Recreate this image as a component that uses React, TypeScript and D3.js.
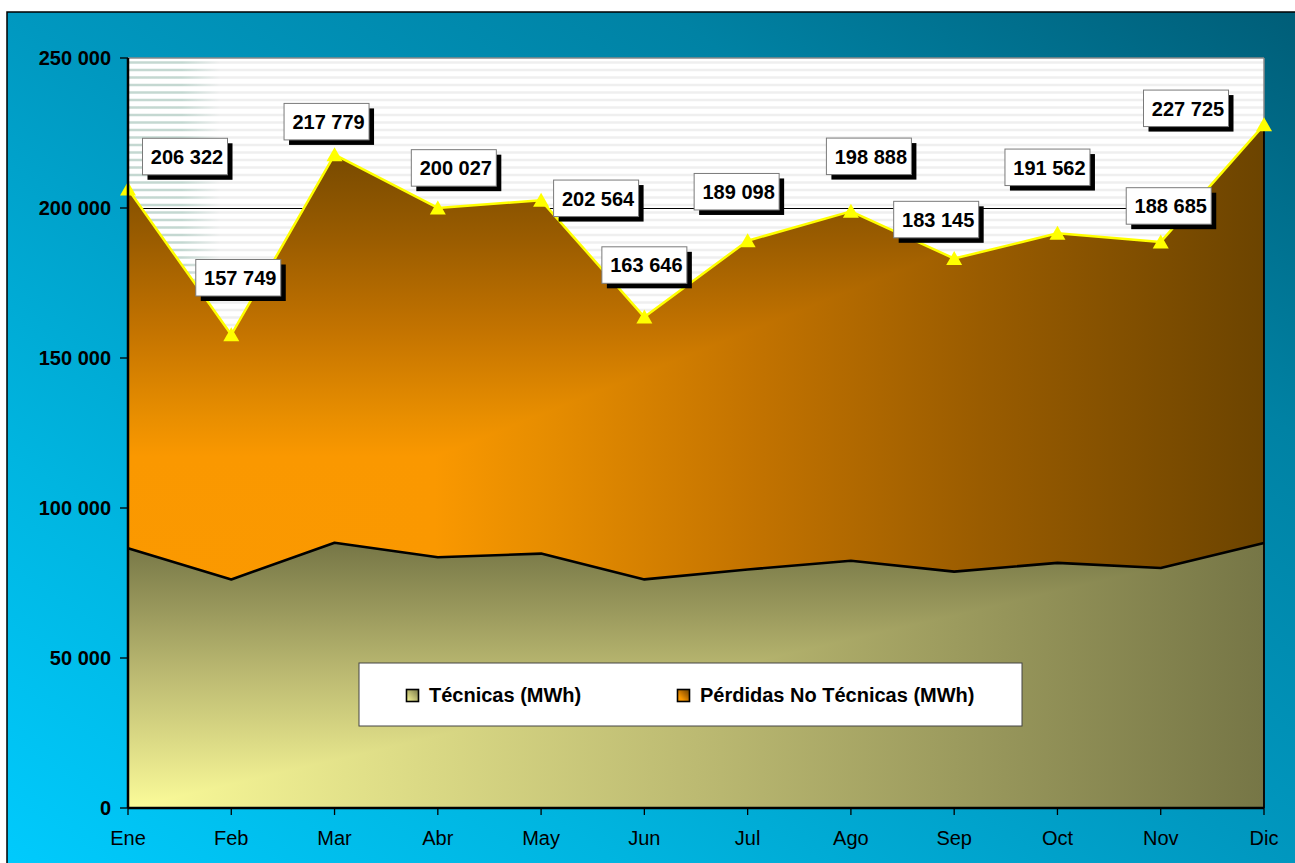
import React from 'react';
import * as d3 from 'd3';

const months = ['Ene', 'Feb', 'Mar', 'Abr', 'May', 'Jun', 'Jul', 'Ago', 'Sep', 'Oct', 'Nov', 'Dic'];
const totalLosses = [206322, 157749, 217779, 200027, 202564, 163646, 189098, 198888, 183145, 191562, 188685, 227725];
const technical = [86600, 76200, 88400, 83600, 84800, 76200, 79500, 82400, 78800, 81700, 80000, 88300];
const yTicks = [0, 50000, 100000, 150000, 200000, 250000];
const seriesNames = ['Técnicas (MWh)', 'Pérdidas No Técnicas (MWh)'];

// label box offsets (px) from each point (manually placed in the original)
const labelDx = [57, 7, -8, 16, 55, 0, -11, 18, -18, -10, 8, -78];
const labelDy = [-32.5, -57, -33, -40, -2, -52, -49, -55, -39, -66, -36, -16.5];

const W = 1295;
const H = 863;
const P = { left: 128, right: 1264, top: 58, bottom: 808 };
const FONT = "'Liberation Sans', Arial, Helvetica, sans-serif";

const perdStops: [number, string][] = [
  [0, '#fb9900'], [0.27, '#fa9800'], [0.36, '#e88e00'], [0.55, '#c37300'], [0.75, '#9a5c00'], [1, '#6c4400'],
];
const tecStops: [number, string][] = [
  [0, '#fbfb99'], [0.5, '#bcba72'], [1, '#767646'],
];

function Stops({ stops }: { stops: [number, string][] }) {
  return (
    <>
      {stops.map(([o, c], i) => (
        <stop key={i} offset={o} stopColor={c} />
      ))}
    </>
  );
}

export default function App() {
  const idx = d3.range(months.length);
  const x = d3.scaleLinear().domain([0, months.length - 1]).range([P.left, P.right]);
  const y = d3.scaleLinear().domain([0, 250000]).range([P.bottom, P.top]);
  const fmt = d3
    .formatLocale({ decimal: ',', thousands: ' ', grouping: [3], currency: ['', ''] })
    .format(',d');

  const tecArea = d3.area<number>().x((i) => x(i)).y0(y(0)).y1((i) => y(technical[i]))(idx) || '';
  const perdArea =
    d3.area<number>().x((i) => x(i)).y0((i) => y(technical[i])).y1((i) => y(totalLosses[i]))(idx) || '';
  const tecLine = d3.line<number>().x((i) => x(i)).y((i) => y(technical[i]))(idx) || '';
  const totLine = d3.line<number>().x((i) => x(i)).y((i) => y(totalLosses[i]))(idx) || '';

  // bounding boxes for "from corner" gradients
  const pTop = y(d3.max(totalLosses) as number);
  const pBot = y(d3.min(technical) as number);
  const tTop = y(d3.max(technical) as number);
  const tBot = y(0);

  const stripes = d3.range(P.top + 4.5, P.bottom, 7.5);
  const lastI = months.length - 1;

  const boxW = 85;
  const boxH = 36.5;

  return (
    <svg
      width={W}
      height={H}
      style={{ position: 'absolute', left: 0, top: 0, display: 'block' }}
      fontFamily={FONT}
    >
      <defs>
        <linearGradient id="bg" x1="0" y1="1" x2="1" y2="0">
          <stop offset="0" stopColor="#00ccff" />
          <stop offset="0.25" stopColor="#00b5e0" />
          <stop offset="0.5" stopColor="#0098c0" />
          <stop offset="0.75" stopColor="#0082a4" />
          <stop offset="1" stopColor="#005c76" />
        </linearGradient>
        <linearGradient id="stripeG" gradientUnits="userSpaceOnUse" x1={P.left} x2={P.right} y1="0" y2="0">
          <stop offset="0" stopColor="#c4d8d1" />
          <stop offset={(182 - P.left) / (P.right - P.left)} stopColor="#c4d8d1" />
          <stop offset={(220 - P.left) / (P.right - P.left)} stopColor="#efefef" />
          <stop offset="1" stopColor="#efefef" />
        </linearGradient>
        <linearGradient id="perdH" gradientUnits="userSpaceOnUse" x1={P.left} x2={P.right} y1="0" y2="0">
          <Stops stops={perdStops} />
        </linearGradient>
        <linearGradient id="perdV" gradientUnits="userSpaceOnUse" x1="0" x2="0" y1={pBot} y2={pTop}>
          <Stops stops={perdStops} />
        </linearGradient>
        <linearGradient id="tecH" gradientUnits="userSpaceOnUse" x1={P.left} x2={P.right} y1="0" y2="0">
          <Stops stops={tecStops} />
        </linearGradient>
        <linearGradient id="tecV" gradientUnits="userSpaceOnUse" x1="0" x2="0" y1={tBot} y2={tTop}>
          <Stops stops={tecStops} />
        </linearGradient>
        <linearGradient id="swTec" x1="0" y1="1" x2="1" y2="0">
          <Stops stops={tecStops} />
        </linearGradient>
        <linearGradient id="swPerd" x1="0" y1="1" x2="1" y2="0">
          <Stops stops={perdStops} />
        </linearGradient>
        <clipPath id="perdClip">
          <polygon points={`${P.left},${pBot} ${P.left},${pTop} ${P.right},${pTop}`} />
        </clipPath>
        <clipPath id="tecClip">
          <polygon points={`${P.left},${tBot} ${P.left},${tTop} ${P.right},${tTop}`} />
        </clipPath>
      </defs>

      {/* page white + chart background */}
      <rect x={0} y={0} width={W} height={H} fill="#ffffff" />
      <rect x={7} y={12} width={W + 20} height={H + 20} fill="url(#bg)" stroke="#000" strokeWidth={1.5} />

      {/* plot area */}
      <rect x={P.left} y={P.top} width={P.right - P.left} height={P.bottom - P.top} fill="#ffffff" />
      {stripes.map((s, i) => (
        <line key={i} x1={P.left} x2={P.right} y1={s} y2={s} stroke="url(#stripeG)" strokeWidth={2.3} />
      ))}
      {yTicks
        .filter((t) => t > 0 && t < 250000)
        .map((t) => (
          <line
            key={t}
            x1={P.left}
            x2={P.right}
            y1={y(t) + 0.5}
            y2={y(t) + 0.5}
            stroke="#000"
            strokeWidth={1}
            shapeRendering="crispEdges"
          />
        ))}
      <line x1={P.left} x2={P.right} y1={P.top} y2={P.top} stroke="#8a8a8a" strokeWidth={1.5} />
      <line x1={P.right} x2={P.right} y1={P.top} y2={P.bottom} stroke="#8a8a8a" strokeWidth={1.5} />

      {/* areas */}
      <path d={perdArea} fill="url(#perdH)" />
      <path d={perdArea} fill="url(#perdV)" clipPath="url(#perdClip)" />
      <path d={tecArea} fill="url(#tecH)" />
      <path d={tecArea} fill="url(#tecV)" clipPath="url(#tecClip)" />
      <path d={tecLine} fill="none" stroke="#000" strokeWidth={2.6} strokeLinejoin="round" />
      <line
        x1={x(lastI)}
        x2={x(lastI)}
        y1={y(totalLosses[lastI])}
        y2={P.bottom}
        stroke="#000"
        strokeWidth={1.8}
      />

      {/* total line + markers */}
      <path d={totLine} fill="none" stroke="#ffff00" strokeWidth={2.5} strokeLinejoin="round" />
      {idx.map((i) => {
        const cx = x(i);
        const cy = y(totalLosses[i]);
        return (
          <polygon
            key={i}
            points={`${cx},${cy - 7.5} ${cx - 8},${cy + 6.5} ${cx + 8},${cy + 6.5}`}
            fill="#ffff00"
          />
        );
      })}

      {/* axes */}
      <line x1={P.left} x2={P.left} y1={P.top} y2={P.bottom} stroke="#000" strokeWidth={2.5} />
      <line x1={P.left} x2={P.right} y1={P.bottom} y2={P.bottom} stroke="#000" strokeWidth={2.5} />
      {yTicks.map((t) => (
        <g key={t}>
          <line x1={P.left - 8} x2={P.left} y1={y(t)} y2={y(t)} stroke="#000" strokeWidth={1.3} />
          <text x={111} y={y(t) + 7} textAnchor="end" fontSize={20} fontWeight="bold" fill="#000">
            {fmt(t)}
          </text>
        </g>
      ))}
      {idx.map((i) => (
        <g key={i}>
          <line x1={x(i)} x2={x(i)} y1={P.bottom} y2={P.bottom + 7} stroke="#000" strokeWidth={1.3} />
          <text x={x(i)} y={845} textAnchor="middle" fontSize={20} fill="#000">
            {months[i]}
          </text>
        </g>
      ))}

      {/* data labels */}
      {idx.map((i) => {
        const cx = x(i) + labelDx[i];
        const cy = y(totalLosses[i]) + labelDy[i];
        const bx = cx - boxW / 2;
        const by = cy - boxH / 2;
        return (
          <g key={i}>
            <rect x={bx + 5} y={by + 5} width={boxW} height={boxH} fill="#000" />
            <rect x={bx} y={by} width={boxW} height={boxH} fill="#fff" stroke="#7a7a7a" strokeWidth={1} />
            <text x={cx + 2} y={cy + 7.3} textAnchor="middle" fontSize={20} fontWeight="bold" fill="#000">
              {fmt(totalLosses[i])}
            </text>
          </g>
        );
      })}

      {/* legend */}
      <rect x={359} y={663} width={663} height={63} fill="#fff" stroke="#444" strokeWidth={1} />
      <rect x={406.5} y={689.5} width={12} height={12} fill="url(#swTec)" stroke="#000" strokeWidth={1.6} />
      <text x={429} y={702} fontSize={20} fontWeight="bold" fill="#000">
        {seriesNames[0]}
      </text>
      <rect x={677.5} y={689.5} width={12} height={12} fill="url(#swPerd)" stroke="#000" strokeWidth={1.6} />
      <text x={700} y={702} fontSize={20} fontWeight="bold" fill="#000">
        {seriesNames[1]}
      </text>
    </svg>
  );
}
